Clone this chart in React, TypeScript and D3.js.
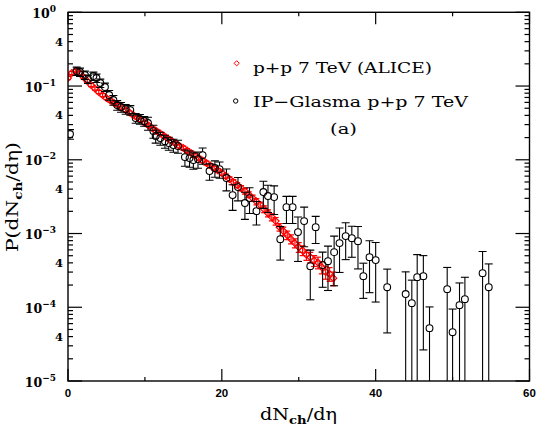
import React from "react";
import * as d3 from "d3";

// ALICE p+p 7 TeV (red diamonds)
const aliceX = [
  0, 0.5, 1, 1.5, 2, 2.5, 3, 3.5, 4, 4.5,
  5, 5.5, 6, 6.5, 7, 7.5, 8, 8.5, 9, 9.5,
  10, 10.5, 11, 11.5, 12, 12.5, 13, 13.5, 14, 14.5,
  15, 15.5, 16, 16.5, 17, 17.5, 18, 18.5, 19, 19.5,
  20, 20.5, 21, 21.5, 22, 22.5, 23, 23.5, 24, 24.5,
  25, 25.5, 26, 26.5, 27, 27.5, 28, 28.5, 29, 29.5,
  30, 30.5, 31, 31.5, 32, 32.5, 33, 33.5, 34, 34.5,
];
const aliceP = [
  0.1284, 0.1501, 0.1598, 0.1501, 0.1325, 0.1169, 0.1032, 0.0925, 0.0829, 0.0755,
  0.0687, 0.0636, 0.0588, 0.0552, 0.0511, 0.0472, 0.0437, 0.0404, 0.0374, 0.0346,
  0.0315, 0.0291, 0.0265, 0.0245, 0.02267, 0.02097, 0.01939, 0.01794, 0.01659, 0.01534,
  0.01441, 0.01333, 0.01233, 0.0114, 0.01054, 0.00975, 0.00902, 0.00834, 0.00772, 0.00714,
  0.0066, 0.00601, 0.00547, 0.00498, 0.00454, 0.00413, 0.00376, 0.00337, 0.00302, 0.00271,
  0.00243, 0.00214, 0.00189, 0.00167, 0.001473, 0.001221, 0.001078, 0.000951, 0.000839, 0.000741,
  0.000654, 0.00059, 0.000515, 0.000478, 0.00043, 0.000405, 0.00035, 0.0003, 0.000285, 0.000248,
];
const aliceRelErr = [
  0.05, 0.05, 0.05, 0.05, 0.05, 0.05, 0.05, 0.05, 0.05, 0.05,
  0.05, 0.05, 0.05, 0.05, 0.05, 0.05, 0.05, 0.05, 0.05, 0.05,
  0.055, 0.055, 0.055, 0.055, 0.055, 0.055, 0.055, 0.055, 0.055, 0.055,
  0.06, 0.06, 0.06, 0.06, 0.06, 0.06, 0.06, 0.06, 0.06, 0.06,
  0.07, 0.07, 0.075, 0.08, 0.08, 0.085, 0.09, 0.09, 0.095, 0.1,
  0.1, 0.105, 0.11, 0.11, 0.12, 0.12, 0.13, 0.13, 0.14, 0.14,
  0.15, 0.15, 0.16, 0.16, 0.17, 0.18, 0.19, 0.2, 0.21, 0.21,
];

// IP-Glasma p+p 7 TeV (black open circles)
const glasmaX = [
  0.26, 1.13, 1.56, 2.2, 2.6, 3.3, 3.7, 4.2, 4.8, 5.35,
  5.9, 6.4, 6.9, 7.5, 8.1, 8.8, 9.35, 9.9, 10.4, 11.1,
  11.4, 12.0, 12.6, 13.1, 13.7, 14.3, 15.2, 15.8, 16.3, 16.9,
  17.5, 18.4, 19.1, 19.7, 20.6, 21.4, 22.1, 23.0, 23.6, 24.5,
  25.4, 26.0, 26.8, 27.6, 28.4, 29.2, 29.9, 30.7, 31.5, 32.2,
  33.1, 33.8, 34.6, 35.3, 36.1, 36.9, 37.7, 38.4, 39.2, 40.0,
  41.5, 43.9, 44.7, 45.4, 46.2, 47.0, 49.3, 50.0, 50.9, 51.6,
  53.9, 54.7,
];
const glasmaP = [
  0.02232, 0.1598, 0.1549, 0.1411, 0.1245, 0.1367, 0.1284, 0.1099, 0.0969, 0.0755,
  0.0646, 0.0552, 0.0519, 0.0487, 0.0472, 0.0368, 0.0357, 0.0335, 0.0315, 0.0245,
  0.021, 0.0197, 0.0179, 0.01685, 0.01584, 0.01534, 0.01088, 0.01054, 0.00991, 0.01022,
  0.01158, 0.00703, 0.00772, 0.00748, 0.00565, 0.00332, 0.00426, 0.00259, 0.00302, 0.00201,
  0.00365, 0.00322, 0.00312, 0.000839, 0.00228, 0.00228, 0.001045, 0.001473, 0.000361, 0.001221,
  0.000373, 0.000422, 0.000559, 0.000741, 0.000922, 0.000866, 0.000788, 0.000264, 0.000478, 0.000436,
  0.000187, 0.000151, 0.0001137, 0.000256, 0.000264, 0.0000521, 0.000176, 0.0000459, 0.0001068, 0.0001288,
  0.00029, 0.000187,
];
const glasmaRelErr = [
  0.15, 0.13, 0.13, 0.13, 0.13, 0.13, 0.13, 0.13, 0.13, 0.15,
  0.15, 0.15, 0.15, 0.15, 0.15, 0.15, 0.15, 0.15, 0.2, 0.2,
  0.2, 0.2, 0.2, 0.2, 0.2, 0.2, 0.25, 0.25, 0.25, 0.25,
  0.25, 0.25, 0.25, 0.25, 0.33, 0.38, 0.35, 0.4, 0.38, 0.35,
  0.4, 0.4, 0.42, 0.48, 0.4, 0.4, 0.6, 0.55, 0.65, 0.4,
  0.5, 0.6, 0.65, 0.6, 0.52, 0.45, 0.58, 0.5, 0.67, 0.73,
  0.76, 1.0, 1.05, 1.02, 0.9, 0.94, 0.97, 1.06, 1.0, 0.98,
  0.97, 1.07,
];

const xMajor = [0, 20, 40, 60];
const xMinor = [10, 30, 50];
const yDecadeExp = [0, -1, -2, -3, -4, -5];
const yMinorMult = [2, 3, 4, 5, 6, 7, 8, 9];

const L = 68, R = 529.5, T = 12.3, B = 381;

export default function App() {
  const x = d3.scaleLinear().domain([0, 60]).range([L, R]);
  const y = d3.scaleLog().domain([1e-5, 1]).range([B, T]);

  const minors: number[] = [];
  for (let k = -5; k < 0; k++) for (const m of yMinorMult) minors.push(m * Math.pow(10, k));

  const serif = "'DejaVu Serif', serif";
  const sans = "'Liberation Sans', Arial, sans-serif";

  const diamond = (cx: number, cy: number, s: number) =>
    `M${cx},${cy - s}L${cx + s},${cy}L${cx},${cy + s}L${cx - s},${cy}Z`;

  const cr = 3.4;

  return (
    <svg width={540} height={432} style={{ position: "absolute", left: 0, top: 0, background: "#fff" }}>
      <defs>
        <clipPath id="plot">
          <rect x={L} y={T} width={R - L} height={B - T} />
        </clipPath>
      </defs>
      <rect x={0} y={0} width={540} height={432} fill="#fff" />

      <g clipPath="url(#plot)">
        {/* ALICE */}
        <g stroke="#ff0000" strokeWidth={1.2} fill="none">
          {aliceX.map((v, i) => {
            const p = aliceP[i];
            const e = p * aliceRelErr[i];
            const cx = x(v);
            const y1 = y(p + e);
            const y2 = y(p - e);
            return (
              <g key={i}>
                <line x1={cx} x2={cx} y1={y1} y2={y2} />
                <line x1={cx - 3} x2={cx + 3} y1={y1} y2={y1} />
                <line x1={cx - 3} x2={cx + 3} y1={y2} y2={y2} />
                <path d={diamond(cx, y(p), 3.4)} />
              </g>
            );
          })}
        </g>
        {/* IP-Glasma */}
        <g stroke="#000" strokeWidth={1.1} fill="none">
          {glasmaX.map((v, i) => {
            const p = glasmaP[i];
            const e = p * glasmaRelErr[i];
            const cx = x(v);
            const cy = y(p);
            const yTop = y(p + e);
            const lowVal = p - e;
            const yBot = lowVal > 1e-7 ? y(lowVal) : B + 10;
            return (
              <g key={i}>
                {cy - cr > yTop && <line x1={cx} x2={cx} y1={yTop} y2={cy - cr} />}
                {yBot > cy + cr && <line x1={cx} x2={cx} y1={cy + cr} y2={yBot} />}
                <line x1={cx - 4} x2={cx + 4} y1={yTop} y2={yTop} />
                {lowVal > 1e-7 && <line x1={cx - 4} x2={cx + 4} y1={yBot} y2={yBot} />}
                <circle cx={cx} cy={cy} r={cr} />
              </g>
            );
          })}
        </g>
      </g>

      {/* frame */}
      <rect x={L} y={T} width={R - L} height={B - T} fill="none" stroke="#000" strokeWidth={1.4} />

      {/* ticks */}
      <g stroke="#000" strokeWidth={1.2}>
        {xMajor.map((v) => (
          <g key={"xm" + v}>
            <line x1={x(v)} x2={x(v)} y1={B} y2={B - 12} />
            <line x1={x(v)} x2={x(v)} y1={T} y2={T + 12} />
          </g>
        ))}
        {xMinor.map((v) => (
          <g key={"xn" + v}>
            <line x1={x(v)} x2={x(v)} y1={B} y2={B - 4} />
            <line x1={x(v)} x2={x(v)} y1={T} y2={T + 4} />
          </g>
        ))}
        {yDecadeExp.map((k) => (
          <g key={"yd" + k}>
            <line x1={L} x2={L + 14} y1={y(Math.pow(10, k))} y2={y(Math.pow(10, k))} />
            <line x1={R - 14} x2={R} y1={y(Math.pow(10, k))} y2={y(Math.pow(10, k))} />
          </g>
        ))}
        {minors.map((m, i) => (
          <g key={"ym" + i}>
            <line x1={L} x2={L + 5} y1={y(m)} y2={y(m)} />
            <line x1={R - 5} x2={R} y1={y(m)} y2={y(m)} />
          </g>
        ))}
      </g>

      {/* x tick labels */}
      <g fontFamily={sans} fontWeight="bold" fontSize={11.5} textAnchor="middle" fill="#000">
        {xMajor.map((v) => (
          <text key={"xl" + v} x={x(v)} y={397}>
            {v}
          </text>
        ))}
      </g>

      {/* y tick labels */}
      <g fontFamily={serif} fontWeight="bold" fill="#000">
        {yDecadeExp.map((k) => (
          <text key={"yl" + k} x={56} y={y(Math.pow(10, k)) + 5.5} fontSize={12.5} textAnchor="end">
            10
            <tspan dy={-6} fontSize={9}>
              {k === 0 ? "0" : "\u2212" + Math.abs(k)}
            </tspan>
          </text>
        ))}
        {yDecadeExp.slice(1).map((k) => (
          <text key={"y4" + k} x={63} y={y(4 * Math.pow(10, k)) + 4} fontSize={11.5} textAnchor="end">
            4
          </text>
        ))}
      </g>

      {/* axis titles */}
      <text x={260} y={420} fontFamily={serif} fontSize={16} textLength={77} lengthAdjust="spacingAndGlyphs" fill="#000">
        dN<tspan dy={4} fontSize={11} fontWeight="bold">ch</tspan>
        <tspan dy={-4}>/d</tspan>η
      </text>
      <text
        transform="translate(18,252) rotate(-90)"
        x={0}
        y={0}
        fontFamily={serif}
        fontSize={16.5}
        textLength={110}
        lengthAdjust="spacingAndGlyphs"
        fill="#000"
      >
        P(dN<tspan dy={4} fontSize={11} fontWeight="bold">ch</tspan>
        <tspan dy={-4}>/dη)</tspan>
      </text>

      {/* legend */}
      <path d={diamond(236.7, 63.3, 2.6)} stroke="#ff0000" strokeWidth={1} fill="none" />
      <text x={253} y={73.3} fontFamily={serif} fontSize={15} textLength={179} lengthAdjust="spacingAndGlyphs" fill="#000">
        p+p 7 TeV (ALICE)
      </text>
      <circle cx={235.7} cy={101} r={2.2} stroke="#000" strokeWidth={1} fill="none" />
      <text x={253} y={106.7} fontFamily={serif} fontSize={15} textLength={215} lengthAdjust="spacingAndGlyphs" fill="#000">
        IP−Glasma p+p 7 TeV
      </text>
      <text x={330} y={134} fontFamily={serif} fontSize={15} textLength={27} lengthAdjust="spacingAndGlyphs" fill="#000">
        (a)
      </text>
    </svg>
  );
}
